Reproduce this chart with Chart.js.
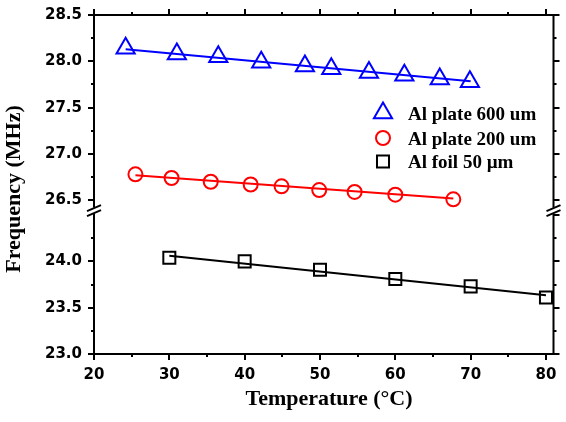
<!DOCTYPE html>
<html>
<head>
<meta charset="utf-8">
<script src="https://cdn.jsdelivr.net/npm/chart.js@4.4.1/dist/chart.umd.min.js"></script>
<style>
  html, body { margin: 0; padding: 0; background: #fff; }
  #wrap { width: 566px; height: 422px; }
</style>
</head>
<body>
<div id="wrap"><canvas id="freqChart" width="566" height="422"></canvas></div>
<script>
// valores: temperatura (°C) x frequência (MHz)
const plate600T = [24.2, 31.0, 36.5, 42.2, 48.0, 51.5, 56.5, 61.2, 65.9, 69.9];
const plate600F = [28.14, 28.08, 28.05, 27.99, 27.95, 27.92, 27.88, 27.85, 27.81, 27.78];
const plate200T = [25.5, 30.3, 35.5, 40.8, 44.9, 49.9, 54.6, 60.0, 67.7];
const plate200F = [26.78, 26.74, 26.70, 26.67, 26.65, 26.61, 26.59, 26.56, 26.51];
const foil50T = [30, 40, 50, 60, 70, 80];
const foil50F = [24.04, 24.00, 23.91, 23.81, 23.73, 23.61];

// retas de ajuste (pontos extremos)
const fit600T = [24.2, 70.0];
const fit600F = [28.13, 27.785];
const fit200T = [25.5, 67.7];
const fit200F = [26.77, 26.52];
const fit50T = [30, 80];
const fit50F = [24.06, 23.635];

const legendLabels = ['Al plate 600 um', 'Al plate 200 um', 'Al foil 50 µm'];
const xRange = [20, 81];
const upperRange = [26.41, 28.5];   // eixo y quebrado: parte de cima
const lowerRange = [23.0, 24.57];   // parte de baixo
const lowerLabelMax = 24.0;         // 24.5 fica escondido pela quebra

const pts = (xs, ys) => xs.map((x, i) => ({ x, y: ys[i] }));

const TICK_FONT = { family: 'DejaVu Sans', size: 15, weight: 'bold' };

function yAxis(range, labelMax) {
    return {
        type: 'linear',
        position: 'left',
        stack: 'freq',
        stackWeight: range[1] - range[0],
        min: range[0],
        max: range[1],
        afterFit: s => { s.width = 94; },
        afterBuildTicks: s => { s.ticks = s.ticks.filter(t => t.value <= labelMax + 1e-9); },
        ticks: {
            stepSize: 0.5,
            includeBounds: false,
            color: '#000',
            font: TICK_FONT,
            padding: 6,
            callback: v => Number(v).toFixed(1)
        },
        grid: { drawOnChartArea: false, drawTicks: true, tickLength: 6, color: '#000', lineWidth: 2 },
        border: { display: true, color: '#000', width: 2 }
    };
}

const BLUE = '#0000ff', RED = '#ff0000', BLACK = '#000000';

// eixo de cima/direita, ticks menores, quebra, títulos e legenda
const frame = {
    id: 'frame',
    afterDraw(c) {
        const { ctx, chartArea: a, scales } = c;
        const sx = scales.x, yt = scales.yTop, yb = scales.yBot;
        const breakY = yt.bottom;
        ctx.save();
        ctx.strokeStyle = '#000';
        ctx.lineWidth = 2;
        ctx.beginPath();
        ctx.moveTo(a.left - 1, a.top); ctx.lineTo(a.right + 1, a.top);
        ctx.moveTo(a.right, a.top); ctx.lineTo(a.right, a.bottom + 1);
        ctx.stroke();

        ctx.beginPath();
        for (let v = xRange[0]; v <= 80; v += 5) {
            const px = Math.round(sx.getPixelForValue(v));
            const major = v % 10 === 0;
            const len = major ? 6 : 3;
            ctx.moveTo(px, a.top); ctx.lineTo(px, a.top - len);
            if (!major) { ctx.moveTo(px, a.bottom); ctx.lineTo(px, a.bottom + len); }
        }
        [yt, yb].forEach(s => {
            for (let v = Math.ceil(s.min * 4) / 4; v <= s.max + 1e-9; v += 0.25) {
                const py = Math.round(s.getPixelForValue(v));
                if (Math.abs(py - breakY) < 6) continue;
                const major = Math.abs(v * 2 - Math.round(v * 2)) < 1e-6;
                const len = major ? 6 : 3;
                ctx.moveTo(a.right, py); ctx.lineTo(a.right + len, py);
                if (!major) { ctx.moveTo(a.left, py); ctx.lineTo(a.left - len, py); }
            }
        });
        ctx.stroke();

        // quebra do eixo
        const by = breakY + 2;
        [a.left, a.right].forEach(ax => {
            ctx.fillStyle = '#fff';
            ctx.fillRect(ax - 3, by - 3, 6, 6);
            ctx.beginPath();
            ctx.moveTo(ax - 7, by + 0.5); ctx.lineTo(ax + 7, by - 5.5);
            ctx.moveTo(ax - 7, by + 5.5); ctx.lineTo(ax + 7, by - 0.5);
            ctx.stroke();
        });

        // títulos
        ctx.fillStyle = '#000';
        ctx.font = 'bold 22px "Liberation Serif"';
        ctx.textAlign = 'center';
        ctx.textBaseline = 'alphabetic';
        ctx.fillText('Temperature (°C)', 329, 405);
        ctx.save();
        ctx.translate(20, 189);
        ctx.rotate(-Math.PI / 2);
        ctx.fillText('Frequency (MHz)', 0, 0);
        ctx.restore();

        // legenda
        const rows = [
            { style: 'triangle', r: 10.5, color: BLUE, y: 113 },
            { style: 'circle', r: 7, color: RED, y: 138 },
            { style: 'rect', r: 8.5, color: BLACK, y: 161.5 }
        ];
        ctx.font = 'bold 19px "Liberation Serif"';
        ctx.textAlign = 'left';
        rows.forEach((row, i) => {
            ctx.strokeStyle = row.color;
            ctx.fillStyle = 'rgba(0,0,0,0)';
            ctx.lineWidth = 2;
            Chart.helpers.drawPoint(ctx, { pointStyle: row.style, radius: row.r, rotation: 0, borderWidth: 2 }, 383, row.y);
            ctx.fillStyle = '#000';
            ctx.fillText(legendLabels[i], 408, row.y + 6.5);
        });
        ctx.restore();
    }
};

const ctx = document.getElementById('freqChart').getContext('2d');
new Chart(ctx, {
    type: 'scatter',
    data: {
        datasets: [
            { data: pts(plate600T, plate600F), yAxisID: 'yTop', pointStyle: 'triangle', pointRadius: 10.5,
              borderColor: BLUE, backgroundColor: 'rgba(0,0,0,0)', borderWidth: 2, order: 0 },
            { data: pts(plate200T, plate200F), yAxisID: 'yTop', pointStyle: 'circle', pointRadius: 7,
              borderColor: RED, backgroundColor: 'rgba(0,0,0,0)', borderWidth: 2, order: 0 },
            { data: pts(foil50T, foil50F), yAxisID: 'yBot', pointStyle: 'rect', pointRadius: 8.5,
              borderColor: BLACK, backgroundColor: 'rgba(0,0,0,0)', borderWidth: 2, order: 0 },
            { data: pts(fit600T, fit600F), yAxisID: 'yTop', showLine: true, pointRadius: 0,
              borderColor: BLUE, borderWidth: 2, order: 1 },
            { data: pts(fit200T, fit200F), yAxisID: 'yTop', showLine: true, pointRadius: 0,
              borderColor: RED, borderWidth: 2, order: 1 },
            { data: pts(fit50T, fit50F), yAxisID: 'yBot', showLine: true, pointRadius: 0,
              borderColor: BLACK, borderWidth: 2, order: 1 }
        ]
    },
    options: {
        responsive: false,
        animation: false,
        layout: { padding: { left: 0, top: 12, right: 10, bottom: 0 } },
        plugins: { legend: { display: false }, tooltip: { enabled: false } },
        scales: {
            x: {
                type: 'linear',
                min: xRange[0],
                max: xRange[1],
                afterFit: s => { s.height = 68; },
                ticks: { stepSize: 10, includeBounds: false, color: '#000', font: TICK_FONT, padding: 6 },
                grid: { drawOnChartArea: false, drawTicks: true, tickLength: 6, color: '#000', lineWidth: 2 },
                border: { display: true, color: '#000', width: 2 }
            },
            // a ordem aqui define o empilhamento: o último fica em cima
            yBot: yAxis(lowerRange, lowerLabelMax),
            yTop: yAxis(upperRange, upperRange[1])
        }
    },
    plugins: [frame]
});
</script>
</body>
</html>
